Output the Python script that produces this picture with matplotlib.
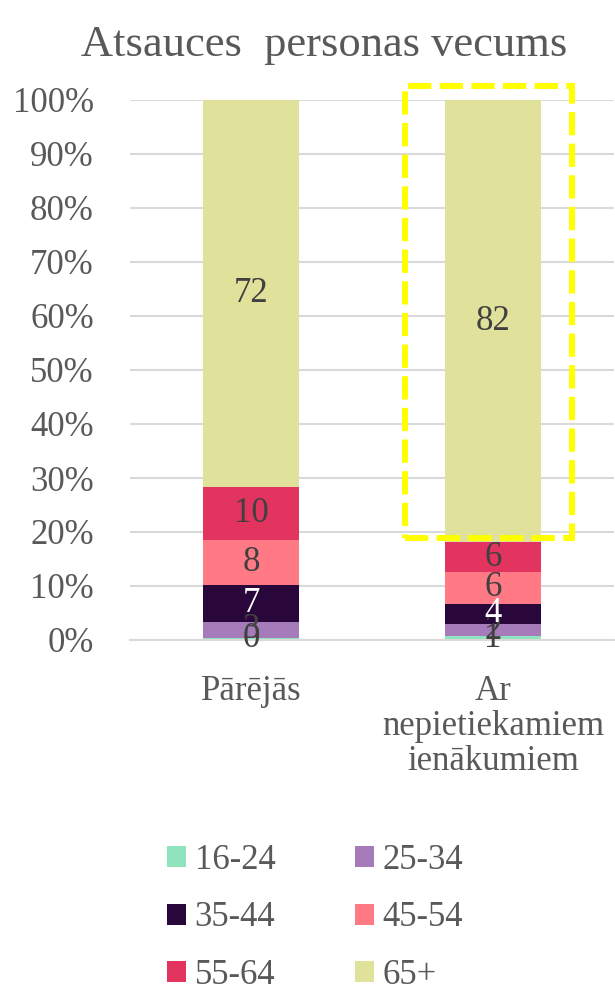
import matplotlib
matplotlib.use("Agg")
import matplotlib.pyplot as plt
from matplotlib.patches import Rectangle, Patch

plt.rcParams['font.family'] = ['Liberation Serif', 'DejaVu Serif']

categories = ["Pārējās", "Ar\nnepietiekamiem\nienākumiem"]
age_groups = ["16-24", "25-34", "35-44", "45-54", "55-64", "65+"]
values = {
    "16-24": [0.4, 0.7],
    "25-34": [3.0, 2.3],
    "35-44": [6.8, 3.7],
    "45-54": [8.3, 5.9],
    "55-64": [9.8, 5.5],
    "65+":   [71.7, 81.9],
}
colors = ["#8fe3bd", "#a67bb9", "#2a073a", "#ff7a85", "#e3335f", "#e0e19b"]
label_colors = ["#404040", "#404040", "#ffffff", "#404040", "#404040", "#404040"]

fig = plt.figure(figsize=(6.15, 9.9), dpi=100)
ax = fig.add_axes([130/615, 1-640/990, 484/615, 540/990])

grey = "#595959"
FS = 25
x = list(range(len(categories)))
bottoms = [0.0] * len(categories)
for g, c, lc in zip(age_groups, colors, label_colors):
    vals = values[g]
    ax.bar(x, [v/100 for v in vals], bottom=[b/100 for b in bottoms], width=0.4,
           color=c, zorder=2, label=g)
    for i, v in enumerate(vals):
        ax.text(x[i], (bottoms[i] + v/2)/100, f"{round(v):d}", ha="center", va="center",
                fontsize=FS, color=lc, zorder=4)
    bottoms = [b + v for b, v in zip(bottoms, vals)]

ax.set_xlim(-0.5, 1.5)
ax.set_ylim(0, 1)
ax.set_yticks([i/10 for i in range(11)])
ax.set_yticklabels([f"{i*10}%" for i in range(11)], fontsize=FS, color=grey)
ax.yaxis.grid(True, color="#d9d9d9", linewidth=1.5, zorder=0)
ax.set_axisbelow(True)
ax.tick_params(axis="y", length=0, pad=26)
ax.tick_params(axis="x", length=0, pad=25)
ax.set_xticks(x)
ax.set_xticklabels(categories, fontsize=FS, color=grey, linespacing=1.08)
for s in ["top", "right", "left"]:
    ax.spines[s].set_visible(False)
ax.spines["bottom"].set_color("#d9d9d9")
ax.spines["bottom"].set_linewidth(1.5)

# highlight box
rect = Rectangle((0.636, 0.189), 0.69, 0.837, fill=False, edgecolor="#ffff00",
                 linewidth=4.3, linestyle=(0, (3.9, 1.4)), zorder=5, clip_on=False)
ax.add_patch(rect)

fig.text(324/615, 1-45/990, "Atsauces  personas vecums", ha="center", va="center",
         fontsize=32, color=grey)

order = [0, 2, 4, 1, 3, 5]
handles = [Patch(facecolor=colors[k], label=age_groups[k]) for k in order]
fig.legend(handles=handles, loc="center", bbox_to_anchor=(315/615, 1-918/990), ncol=2,
           frameon=False, fontsize=FS, labelcolor=grey, handlelength=0.55, handleheight=0.55,
           handletextpad=0.26, columnspacing=2.28, labelspacing=0.7)

fig.savefig("out.png", dpi=100)
